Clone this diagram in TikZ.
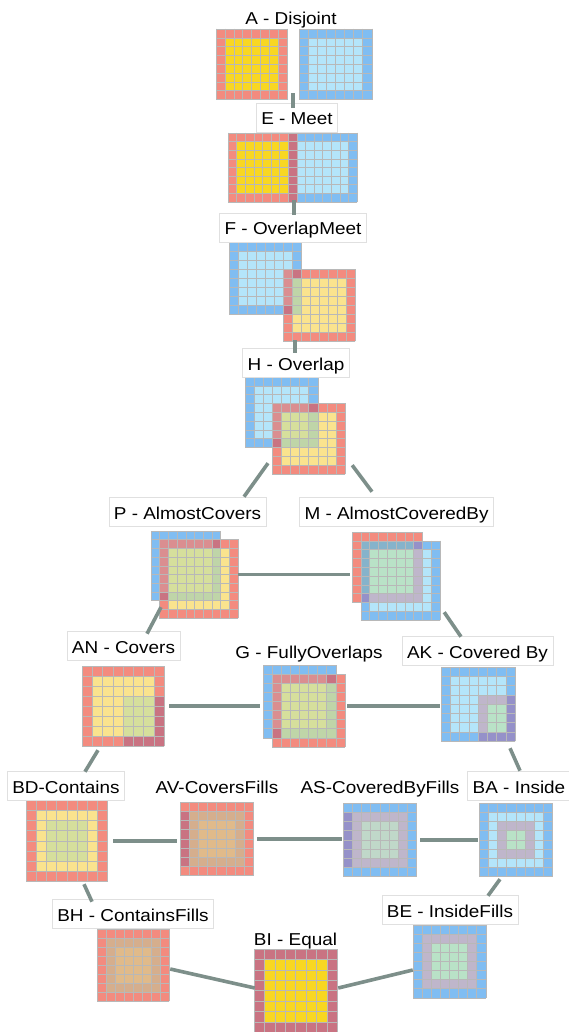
\documentclass[tikz,border=0pt]{standalone}
\usepackage{fontspec}
\setmainfont{Liberation Sans}[FakeStretch=1.1]
\usetikzlibrary{fit,calc}
\definecolor{cRB}{HTML}{F38B7F}
\definecolor{cRY}{HTML}{F8D722}
\definecolor{cRP}{HTML}{FAE38E}
\definecolor{cBB}{HTML}{80BDF2}
\definecolor{cBI}{HTML}{B4E5FA}
\definecolor{cDP}{HTML}{C97382}
\definecolor{cDUP}{HTML}{DA8E90}
\definecolor{cGY}{HTML}{D6DF9C}
\definecolor{cGYB}{HTML}{BFD5A8}
\definecolor{cPU}{HTML}{9591C9}
\definecolor{cLAV}{HTML}{BFB6CB}
\definecolor{cMINT}{HTML}{B9E2C7}
\definecolor{cSTEEL}{HTML}{86B3CB}
\definecolor{cTAN}{HTML}{D5AE8D}
\definecolor{cTANL}{HTML}{E0BA8A}
\definecolor{cMG}{HTML}{C0D8C9}
\definecolor{cEDGE}{HTML}{7D8F8A}
\newcommand\lblfont{\fontsize{17.2}{20}\selectfont}
\newcommand\sq[5]{\fill[#5] (#1,#2) rectangle ++(#3,#4);}
\newcommand\ringbox[6]{\sq{#1}{#2}{#3}{#4}{#5}\fill[#6] (#1+1,#2+1) rectangle ++(#3-2,#4-2);}
\newcommand\grd[4]{%
  \foreach \gi in {0,...,#3}{\draw[gline] (#1+\gi,#2) -- ++(0,#4);}%
  \foreach \gj in {0,...,#4}{\draw[gline] (#1,#2+\gj) -- ++(#3,0);}}
\begin{document}
\begin{tikzpicture}[x=1pt,y=-1pt,
  gline/.style={draw=black!28,line width=0.5pt,line cap=rect},
  lbl/.style={draw=black!12,line width=0.6pt,fill=white,inner xsep=5pt,inner ysep=0pt,
              text height=22pt,text depth=7pt,anchor=base,font=\lblfont},
  plainlbl/.style={inner sep=0pt,anchor=base,font=\lblfont},
  edge/.style={draw=cEDGE,line width=3.6pt},
  objn/.style={inner sep=0pt,draw=none}]
\useasboundingbox (0,0) rectangle (568,1032);
\fill[white] (0,0) rectangle (568,1032);

% ---------- A Disjoint
\begin{scope}[shift={(216,29)},x=8.9pt,y=-8.8pt]
  \ringbox{0}{0}{8}{8}{cRB}{cRY}\grd{0}{0}{8}{8}
\end{scope}
\begin{scope}[shift={(299,29)},x=9.1pt,y=-8.8pt]
  \ringbox{0}{0}{8}{8}{cBB}{cBI}\grd{0}{0}{8}{8}
\end{scope}
\node[objn,fit={(216,29) (372,99)}] (Aobj) {};
\node[plainlbl] (Alab) at (291,25) {A - Disjoint};

% ---------- E Meet
\begin{scope}[shift={(228,133)},x=8.6pt,y=-8.6pt]
  \ringbox{0}{0}{8}{8}{cRB}{cRY}
  \ringbox{7}{0}{8}{8}{cBB}{cBI}
  \sq{7}{0}{1}{8}{cDP}
  \grd{0}{0}{15}{8}
\end{scope}
\node[objn,fit={(228,133) (357,202)}] (Eobj) {};
\node[lbl] (Elab) at (297,125) {E - Meet};

% ---------- F OverlapMeet
\begin{scope}[shift={(229,242)},x=9pt,y=-9pt]
  \ringbox{0}{0}{8}{8}{cBB}{cBI}
  \ringbox{6}{3}{8}{8}{cRB}{cRP}
  \sq{6}{3}{1}{4}{cDUP}
  \sq{7}{3}{1}{1}{cDP}
  \sq{6}{7}{1}{1}{cDP}
  \sq{7}{4}{1}{4}{cGYB}
  \grd{0}{0}{8}{8}\grd{6}{3}{8}{8}
\end{scope}
\node[objn,fit={(229,242) (355,341)}] (Fobj) {};
\node[lbl] (Flab) at (293,235) {F - OverlapMeet};

% ---------- H Overlap
\begin{scope}[shift={(245,377)},x=9.1pt,y=-8.8pt]
  \ringbox{0}{0}{8}{8}{cBB}{cBI}
  \ringbox{3}{3}{8}{8}{cRB}{cRP}
  \sq{3}{3}{4}{1}{cDUP}\sq{3}{4}{1}{3}{cDUP}
  \sq{7}{3}{1}{1}{cDP}\sq{3}{7}{1}{1}{cDP}
  \sq{4}{4}{3}{3}{cGY}
  \sq{7}{4}{1}{4}{cGYB}\sq{4}{7}{3}{1}{cGYB}
  \grd{0}{0}{8}{8}\grd{3}{3}{8}{8}
\end{scope}
\node[objn,fit={(245,377) (345,474)}] (Hobj) {};
\node[lbl] (Hlab) at (296,370) {H - Overlap};

% ---------- P AlmostCovers
\begin{scope}[shift={(151,531)},x=8.7pt,y=-8.7pt]
  \ringbox{0}{0}{8}{8}{cBB}{cBI}
  \ringbox{1}{1}{9}{9}{cRB}{cRP}
  \sq{1}{1}{6}{1}{cDUP}\sq{1}{2}{1}{5}{cDUP}
  \sq{7}{1}{1}{1}{cDP}\sq{1}{7}{1}{1}{cDP}
  \sq{2}{2}{5}{5}{cGY}
  \sq{7}{2}{1}{6}{cGYB}\sq{2}{7}{5}{1}{cGYB}
  \grd{0}{0}{8}{8}\grd{1}{1}{9}{9}
\end{scope}
\node[objn,fit={(151,531) (238,618)}] (Pobj) {};
\node[lbl] (Plab) at (187.5,519) {P - AlmostCovers};

% ---------- M AlmostCoveredBy
\begin{scope}[shift={(352,532)},x=8.8pt,y=-8.8pt]
  \ringbox{0}{0}{8}{8}{cRB}{cRY}
  \ringbox{1}{1}{9}{9}{cBB}{cBI}
  \sq{1}{1}{6}{1}{cSTEEL}\sq{1}{2}{1}{5}{cSTEEL}
  \sq{7}{1}{1}{1}{cPU}\sq{1}{7}{1}{1}{cPU}
  \sq{2}{2}{5}{5}{cMINT}
  \sq{7}{2}{1}{6}{cLAV}\sq{2}{7}{5}{1}{cLAV}
  \grd{0}{0}{8}{8}\grd{1}{1}{9}{9}
\end{scope}
\node[objn,fit={(352,532) (440,620)}] (Mobj) {};
\node[lbl] (Mlab) at (396.5,519) {M - AlmostCoveredBy};

% ---------- AN Covers
\begin{scope}[shift={(82,666)},x=10.25pt,y=-10pt]
  \ringbox{0}{0}{8}{8}{cRB}{cRP}
  \sq{4}{3}{3}{4}{cGY}\sq{7}{3}{1}{5}{cDP}\sq{4}{7}{3}{1}{cDP}
  \grd{0}{0}{8}{8}
\end{scope}
\node[objn,fit={(82,666) (164,746)}] (ANobj) {};
\node[lbl] (ANlab) at (123.5,653) {AN - Covers};

% ---------- G FullyOverlaps
\begin{scope}[shift={(263,665)},x=9.1pt,y=-9.1pt]
  \ringbox{0}{0}{8}{8}{cBB}{cBI}
  \ringbox{1}{1}{8}{8}{cRB}{cRP}
  \sq{1}{1}{6}{1}{cDUP}\sq{1}{2}{1}{5}{cDUP}
  \sq{7}{1}{1}{1}{cDP}\sq{1}{7}{1}{1}{cDP}
  \sq{2}{2}{5}{5}{cGY}
  \sq{7}{2}{1}{6}{cGYB}\sq{2}{7}{5}{1}{cGYB}
  \grd{0}{0}{8}{8}\grd{1}{1}{8}{8}
\end{scope}
\node[objn,fit={(263,665) (345,747)}] (Gobj) {};
\node[plainlbl] (Glab) at (309,658) {G - FullyOverlaps};

% ---------- AK Covered By
\begin{scope}[shift={(441,667)},x=9.25pt,y=-9.25pt]
  \ringbox{0}{0}{8}{8}{cBB}{cBI}
  \sq{4}{3}{3}{1}{cLAV}\sq{4}{4}{1}{3}{cLAV}\sq{5}{4}{2}{3}{cMINT}
  \sq{7}{3}{1}{5}{cPU}\sq{4}{7}{3}{1}{cPU}
  \grd{0}{0}{8}{8}
\end{scope}
\node[objn,fit={(441,667) (515,741)}] (AKobj) {};
\node[lbl] (AKlab) at (477.5,658) {AK - Covered By};

% ---------- BD Contains
\begin{scope}[shift={(26,800)},x=10.2pt,y=-10.2pt]
  \ringbox{0}{0}{8}{8}{cRB}{cRP}\sq{2}{2}{4}{4}{cGY}
  \grd{0}{0}{8}{8}
\end{scope}
\node[objn,fit={(26,800) (108,882)}] (BDobj) {};
\node[lbl] (BDlab) at (66,793) {BD-Contains};

% ---------- AV CoversFills
\begin{scope}[shift={(180,802)},x=9.15pt,y=-9.2pt]
  \ringbox{0}{0}{8}{8}{cRB}{cTAN}\sq{2}{2}{4}{4}{cTANL}\sq{0}{1}{1}{6}{cDP}
  \grd{0}{0}{8}{8}
\end{scope}
\node[objn,fit={(180,802) (253,876)}] (AVobj) {};
\node[plainlbl] (AVlab) at (217,793) {AV-CoversFills};

% ---------- AS CoveredByFills
\begin{scope}[shift={(343,803)},x=9.2pt,y=-9.2pt]
  \ringbox{0}{0}{8}{8}{cBB}{cLAV}\sq{2}{2}{4}{4}{cMG}\sq{0}{1}{1}{6}{cPU}
  \grd{0}{0}{8}{8}
\end{scope}
\node[objn,fit={(343,803) (417,877)}] (ASobj) {};
\node[plainlbl] (ASlab) at (380,793) {AS-CoveredByFills};

% ---------- BA Inside
\begin{scope}[shift={(479,803)},x=9.2pt,y=-9.2pt]
  \ringbox{0}{0}{8}{8}{cBB}{cBI}\sq{2}{2}{4}{4}{cLAV}\sq{3}{3}{2}{2}{cMINT}
  \grd{0}{0}{8}{8}
\end{scope}
\node[objn,fit={(479,803) (553,877)}] (BAobj) {};
\node[lbl] (BAlab) at (519,793) {BA - Inside};

% ---------- BH ContainsFills
\begin{scope}[shift={(97,929)},x=9pt,y=-9pt]
  \ringbox{0}{0}{8}{8}{cRB}{cTAN}\sq{2}{2}{4}{4}{cTANL}
  \grd{0}{0}{8}{8}
\end{scope}
\node[objn,fit={(97,929) (169,1001)}] (BHobj) {};
\node[lbl] (BHlab) at (133,921) {BH - ContainsFills};

% ---------- BI Equal
\begin{scope}[shift={(254,949)},x=10.4pt,y=-10.4pt]
  \ringbox{0}{0}{8}{8}{cDP}{cRY}
  \grd{0}{0}{8}{8}
\end{scope}
\node[objn,fit={(254,949) (337,1032)}] (BIobj) {};
\node[plainlbl] (BIlab) at (295.5,945) {BI - Equal};

% ---------- BE InsideFills
\begin{scope}[shift={(413,925)},x=9.1pt,y=-9.1pt]
  \ringbox{0}{0}{8}{8}{cBB}{cLAV}\sq{2}{2}{4}{4}{cMINT}
  \grd{0}{0}{8}{8}
\end{scope}
\node[objn,fit={(413,925) (486,998)}] (BEobj) {};
\node[lbl] (BElab) at (450,917) {BE - InsideFills};

% ---------- connectors
\draw[edge] ($(Aobj.south)+(-1,-6)$) -- ($(Elab.north)+(-4,5)$);
\draw[edge] ($(Eobj.south)+(1.5,-2)$) -- ($(Flab.north)+(1,2)$);
\draw[edge] ($(Fobj.south)+(3,-1)$) -- ($(Hlab.north)+(-1,5)$);
\draw[edge] ($(Hobj.south)+(-27,-11)$) -- ($(Plab.north)+(56.5,0)$);
\draw[edge] ($(Hobj.south east)+(7,-9)$) -- ($(Mlab.north)+(-24.5,-5)$);
\draw[edge,shorten >=2pt] (Pobj.east) -- (Pobj.east -| Mobj.west);
\draw[edge] ($(Pobj.south)+(-33.5,-11)$) -- ($(ANlab.north)+(23.5,3)$);
\draw[edge] ($(Mobj.south east)+(4,-8)$) -- ($(AKlab.north)+(-16.5,1)$);
\draw[edge,shorten <=5pt,shorten >=3pt] (ANobj.east) -- (ANobj.east -| Gobj.west);
\draw[edge,shorten <=2pt,shorten >=1pt] (Gobj.east) -- (Gobj.east -| AKobj.west);
\draw[edge] ($(ANobj.south)+(-25,4)$) -- ($(BDlab.north)+(19,1)$);
\draw[edge] ($(AKobj.south)+(32,7)$) -- ($(BAlab.north)+(1,0)$);
\draw[edge,shorten <=5pt,shorten >=3pt] (BDobj.east) -- (BDobj.east -| AVobj.west);
\draw[edge,shorten <=4pt,shorten >=1pt] (AVobj.east) -- (AVobj.east -| ASobj.west);
\draw[edge,shorten <=3pt,shorten >=1pt] (ASobj.east) -- (ASobj.east -| BAobj.west);
\draw[edge] ($(BDobj.south)+(17,2)$) -- ($(BHlab.north)+(-41,3)$);
\draw[edge] ($(BAobj.south)+(-16,2)$) -- ($(BElab.north)+(38,1)$);
\draw[edge] ($(BHobj.east)+(1,4)$) -- ($(BIobj.west)+(1,-2.5)$);
\draw[edge] ($(BIobj.east)+(1,-2.5)$) -- ($(BEobj.west)+(0,8.5)$);
\end{tikzpicture}
\end{document}
